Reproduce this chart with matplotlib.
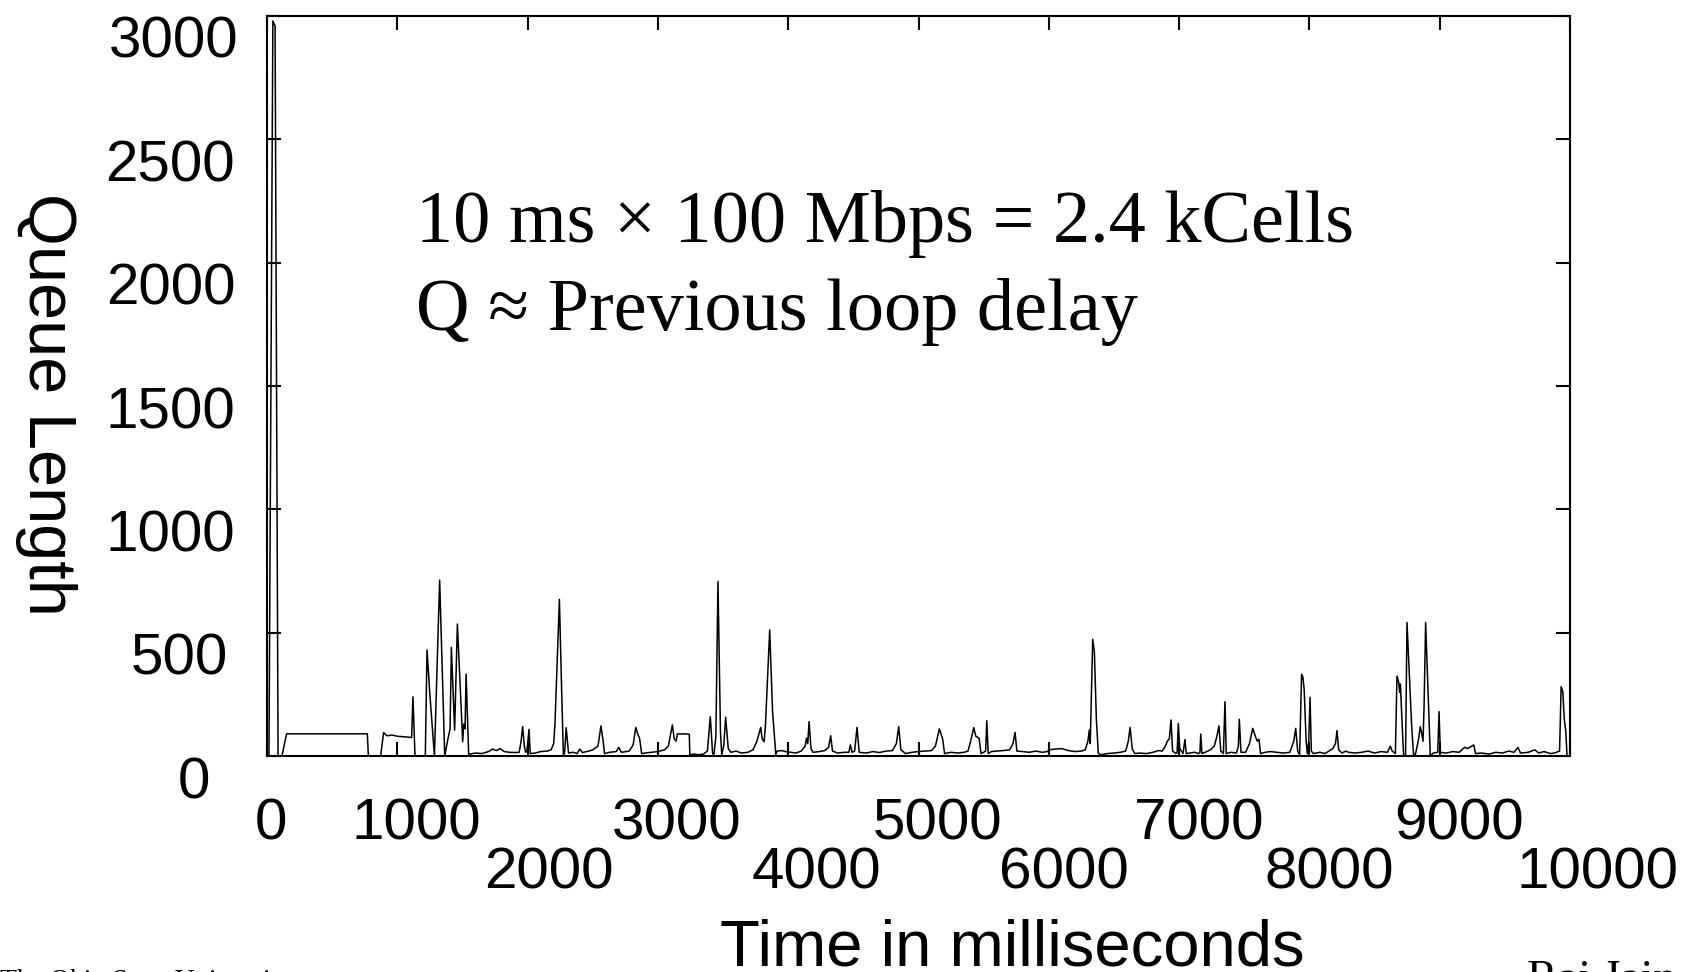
import numpy as np
import matplotlib
matplotlib.use('agg')
import matplotlib.pyplot as plt
from matplotlib.transforms import ScaledTranslation

# queue length trace (time in ms, queue in cells)
time_ms = [0, 15, 45, 62, 85, 115, 150, 770, 778,
           872, 895, 920, 960, 1000, 1050, 1110, 1120, 1136,
           1215, 1228, 1250, 1285, 1325, 1364, 1385, 1405, 1415, 1440, 1461, 1502, 1510, 1520, 1528, 1548,
           1560, 1600, 1650, 1700, 1730, 1760, 1790, 1820, 1860, 1900, 1935, 1950, 1962, 1975, 1985, 1995,
           2011, 2020, 2060, 2100, 2150, 2180, 2200, 2210, 2244, 2262, 2275, 2285, 2296, 2314, 2350, 2380,
           2400, 2420, 2470, 2500, 2540, 2563, 2580, 2590, 2630, 2680, 2700, 2720, 2780, 2810, 2830, 2845,
           2860, 2875, 2900, 2950, 3000, 3050, 3080, 3111, 3125, 3140, 3150, 3165, 3200, 3241, 3245, 3280,
           3310, 3350, 3380, 3402, 3420, 3430, 3445, 3461, 3480, 3490, 3505, 3520, 3540, 3560, 3600, 3640,
           3690, 3730, 3760, 3789, 3800, 3815, 3825, 3858, 3880, 3905, 3915, 3950, 3980, 4020, 4060, 4100,
           4130, 4140, 4150, 4160, 4175, 4190, 4240, 4280, 4310, 4326, 4340, 4380, 4430, 4465, 4477, 4490,
           4510, 4528, 4545, 4600, 4650, 4700, 4750, 4800, 4830, 4848, 4865, 4900, 4950,
           5000, 5050, 5100, 5130, 5160, 5185, 5200, 5250, 5300, 5350, 5380, 5400, 5424, 5440, 5465, 5480,
           5500, 5515, 5524, 5535, 5560, 5600, 5650, 5700, 5725, 5741, 5755, 5800, 5850, 5900, 5950, 5990,
           6000, 6050, 6100, 6150, 6200, 6250, 6280, 6300, 6311, 6318, 6337, 6350, 6365, 6380, 6400, 6450,
           6500, 6550, 6590, 6610, 6624, 6640, 6660,
           6700, 6750, 6800, 6840, 6870, 6890, 6910, 6925, 6938, 6950, 6975, 6985, 6994, 7005, 7030, 7045,
           7055, 7080, 7120, 7150, 7160, 7166, 7175, 7200, 7240, 7270, 7290, 7306, 7320, 7340, 7352, 7362,
           7400, 7440, 7455, 7462, 7475, 7510, 7540, 7565, 7585, 7600, 7613, 7625, 7660, 7700, 7750, 7800,
           7850, 7880, 7895, 7910, 7925, 7940, 7950, 7960, 7975, 7984, 7995, 8005, 8015, 8030, 8080, 8120,
           8150, 8180, 8200, 8212, 8225, 8250, 8280, 8300,
           8350, 8400, 8450, 8500, 8550, 8600, 8621, 8635, 8660, 8672, 8685, 8693, 8698, 8710, 8723, 8738,
           8749, 8765, 8785, 8800, 8815, 8835, 8851, 8862, 8872, 8880, 8892, 8905, 8928, 8950, 8985, 8995,
           9005, 9050, 9100, 9150, 9190, 9215, 9240, 9261, 9275, 9320, 9380, 9430, 9480, 9530, 9570, 9601,
           9620, 9680, 9730, 9760, 9800, 9850, 9880, 9920, 9932, 9945, 9956, 9968, 9977]
queue_len = [0, 0, 2980, 2960, 0, 0, 90, 90, 0,
             0, 95, 82, 85, 80, 78, 75, 240, 0,
             0, 430, 250, 0, 713, 0, 60, 110, 440, 105, 535, 58, 130, 110, 332, 0,
             8, 12, 10, 18, 28, 22, 30, 18, 15, 14, 15, 60, 119, 40, 15, 20,
             108, 10, 12, 18, 20, 25, 50, 128, 635, 250, 0, 20, 115, 12, 15, 10,
             28, 14, 20, 25, 40, 122, 60, 10, 15, 18, 35, 15, 20, 45, 116, 90,
             70, 10, 12, 15, 18, 25, 40, 126, 70, 60, 90, 89, 90, 88, 5, 8,
             5, 8, 20, 159, 10, 5, 80, 707, 100, 5, 40, 157, 30, 15, 20, 12,
             15, 25, 60, 116, 70, 58, 120, 511, 180, 5, 20, 22, 18, 15, 12, 20,
             40, 72, 50, 139, 30, 15, 18, 22, 35, 82, 20, 12, 15, 15, 45, 15,
             20, 116, 15, 12, 18, 14, 20, 22, 50, 119, 25, 10, 15,
             18, 20, 22, 40, 110, 70, 10, 15, 12, 15, 20, 60, 115, 80, 72, 10,
             15, 20, 143, 10, 18, 20, 22, 25, 50, 96, 20, 18, 15, 20, 15, 18,
             25, 28, 30, 22, 18, 20, 25, 60, 105, 50, 473, 420, 150, 10, 5, 10,
             12, 15, 20, 60, 116, 30, 10,
             12, 10, 15, 22, 20, 35, 60, 70, 146, 20, 10, 15, 132, 30, 10, 67,
             10, 12, 15, 10, 15, 89, 10, 15, 25, 40, 80, 122, 20, 10, 220, 10,
             15, 12, 40, 149, 15, 15, 50, 112, 80, 60, 68, 10, 15, 18, 15, 12,
             15, 60, 112, 20, 5, 331, 320, 268, 60, 10, 60, 238, 20, 10, 15, 10,
             20, 30, 50, 103, 25, 12, 20, 15,
             12, 15, 20, 12, 18, 15, 40, 20, 10, 324, 300, 258, 292, 150, 0, 5,
             541, 350, 120, 0, 10, 60, 119, 90, 60, 200, 541, 350, 0, 12, 15, 180,
             15, 12, 18, 15, 35, 30, 38, 45, 10, 12, 8, 15, 12, 20, 15, 35,
             12, 15, 25, 12, 18, 10, 12, 20, 281, 260, 150, 100, 0]

xticks = [0, 1000, 2000, 3000, 4000, 5000, 6000, 7000, 8000, 9000, 10000]
xtick_labels = ['0', '1000', '2000', '3000', '4000', '5000', '6000', '7000', '8000', '9000', '10000']
yticks = [0, 500, 1000, 1500, 2000, 2500, 3000]
ytick_labels = ['0', '500', '1000', '1500', '2000', '2500', '3000']

sans = ['Liberation Sans', 'DejaVu Sans']
serif = ['Liberation Serif', 'DejaVu Serif']

fig = plt.figure(figsize=(16.94, 9.72), dpi=100)
ax = fig.add_axes([267/1694, 1-756/972, 1303/1694, 740/972])
ax.plot(time_ms, queue_len, color='black', lw=1.1)
ax.set_xlim(0, 10000)
ax.set_ylim(0, 3000)
ax.set_xticks(xticks)
ax.set_xticklabels(xtick_labels, family=sans, fontsize=42)
ax.set_yticks(yticks)
ax.set_yticklabels(ytick_labels, family=sans, fontsize=42)
ax.tick_params(direction='in', length=10, width=1.5, top=True, right=True, pad=0)
for s in ax.spines.values():
    s.set_linewidth(1.5)

# the slide has the tick labels shifted and staggered; offsets in pixels
xlab_dx = [4, 19, 21, 19, 28, 19, 15, 20, 20, 19, 27]
for i, lab in enumerate(ax.get_xticklabels()):
    dy = -41 if (i == 0 or i % 2 == 1) else -90
    lab.set_transform(lab.get_transform() + ScaledTranslation(xlab_dx[i]/100, dy/100, fig.dpi_scale_trans))

ylab_dx = [-73, -88, -97, -97, -96, -97, -93]
for i, lab in enumerate(ax.get_yticklabels()):
    lab.set_ha('center')
    lab.set_transform(lab.get_transform() + ScaledTranslation(ylab_dx[i]/100, -21/100, fig.dpi_scale_trans))

fig.text(46/1694, 1-404/972, 'Queue Length', rotation=270, fontsize=48, family=sans,
         ha='center', va='center')
fig.text(1012/1694, 1-965/972, 'Time in milliseconds', fontsize=47, family=sans,
         ha='center', va='baseline')

fig.text(416/1694, 1-242/972, '10 ms \u00d7 100 Mbps = 2.4 kCells', fontsize=53.5, family=serif,
         va='baseline')
fig.text(416/1694, 1-330/972, 'Q \u2248 Previous loop delay', fontsize=53.5, family=serif,
         va='baseline')

# slide footer, mostly cut off at the bottom edge
fig.text(0/1694, 1-988/972, 'The Ohio State University', fontsize=20, family=serif, va='baseline')
fig.text(1527/1694, 1-992/972, 'Raj Jain', fontsize=33, family=serif, va='baseline')

fig.savefig('out.png', dpi=100)
